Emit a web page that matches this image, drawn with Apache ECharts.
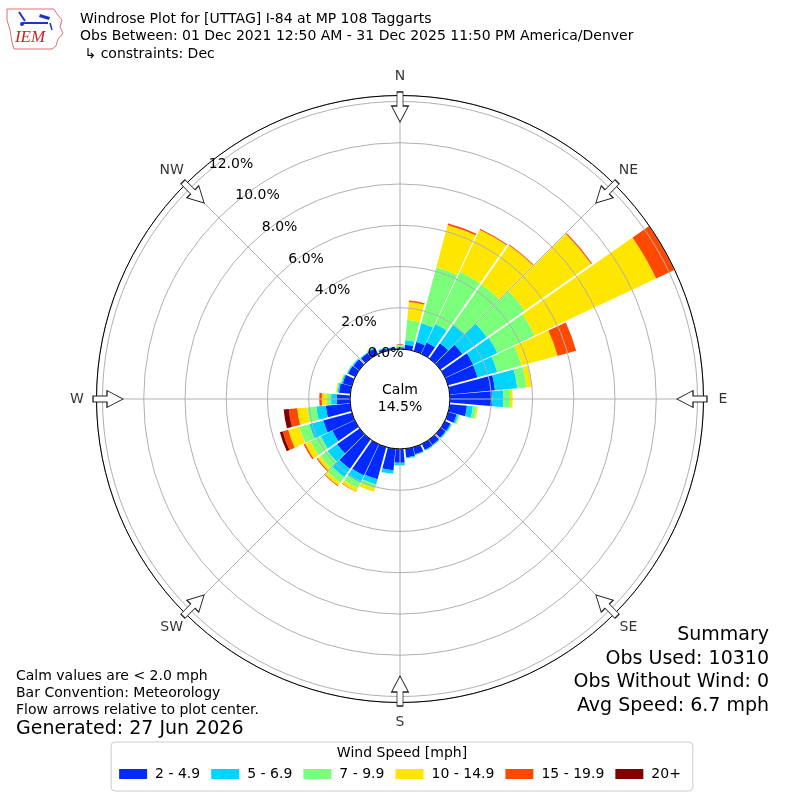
<!DOCTYPE html>
<html><head><meta charset="utf-8">
<script src="https://cdn.jsdelivr.net/npm/echarts@6/dist/echarts.min.js"></script>
<style>html,body{margin:0;padding:0;background:#fff}#c{width:800px;height:800px}</style>
</head><body><div id="c"></div>
<script>
// ---------- data ----------
const directions = [0,10,20,30,40,50,60,70,80,90,100,110,120,130,140,150,160,170,
                    180,190,200,210,220,230,240,250,260,270,280,290,300,310,320,330,340,350];
const speedBins = ['2 - 4.9','5 - 6.9','7 - 9.9','10 - 14.9','15 - 19.9','20+'];
// percent of observations per direction bin (stacked)
const bin2to5   = [0.05,0.22,0.45,0.60,0.90,1.30,1.50,1.48,2.20,2.05,0.84,0.42,0.30,0.28,0.30,0.32,0.35,0.42,
                   0.67,1.05,1.62,1.68,1.74,1.33,1.20,1.44,1.19,0.64,0.55,0.45,0.38,0.35,0.30,0.32,0.12,0.08];
const bin5to7   = [0.06,0.23,0.95,1.00,1.10,1.45,1.30,0.99,1.08,0.55,0.29,0.09,0.06,0.05,0.04,0.04,0.04,0.05,
                   0.12,0.17,0.26,0.39,0.49,0.57,0.62,0.70,0.46,0.28,0.07,0.06,0.05,0.05,0.04,0.05,0.04,0.03];
const bin7to10  = [0.05,0.98,2.80,2.80,2.40,2.25,2.00,1.23,0.46,0.32,0.17,0.06,0.03,0.02,0,0,0,0.02,
                   0.02,0.03,0.21,0.29,0.33,0.43,0.56,0.50,0.44,0.21,0.05,0.04,0.02,0.02,0,0.03,0.02,0.02];
const bin10to15 = [0.04,0.87,2.12,2.25,2.32,3.92,6.50,1.80,0.24,0.12,0.07,0.03,0,0,0,0,0,0,
                   0,0,0.16,0.18,0.17,0.17,0.28,0.56,0.49,0.24,0.03,0.02,0,0,0,0.02,0,0];
const bin15to20 = [0,0.07,0.08,0.05,0.04,0.06,0.97,0.93,0,0,0,0,0,0,0,0,0,0,
                   0,0,0,0.02,0.04,0.05,0.08,0.28,0.41,0.12,0,0,0,0,0,0,0,0];
const bin20plus = [0,0,0,0,0,0,0,0,0,0,0,0,0,0,0,0,0,0,
                   0,0,0,0,0,0,0,0.14,0.25,0,0,0,0,0,0,0,0,0];
const compassDirs  = [0,45,90,135,180,225,270,315];
const compassNames = ['N','NE','E','SE','S','SW','W','NW'];
const ringTicks = [0,2,4,6,8,10,12];
const calmPct = 14.5;
const maxPct = 12.29;
const summaryLines = ['Summary','Obs Used: 10310','Obs Without Wind: 0','Avg Speed: 6.7 mph'];
const noteLines = ['Calm values are < 2.0 mph','Bar Convention: Meteorology','Flow arrows relative to plot center.'];
const generatedLine = 'Generated: 27 Jun 2026';
const titleLines = ['Windrose Plot for [UTTAG] I-84 at MP 108 Taggarts',
                    'Obs Between: 01 Dec 2021 12:50 AM - 31 Dec 2025 11:50 PM America/Denver',
                    ' \u21b3 constraints: Dec'];

// ---------- layout / style ----------
const CX = 400, CY = 399, R0 = 50, R1 = 303.5;
const FONT = 'DejaVu Sans';
const colors = ['#002aff','#00d4ff','#7bff7b','#ffe600','#ff4800','#800000'];
const binData = [bin2to5, bin5to7, bin7to10, bin10to15, bin15to20, bin20plus];
const pxToVal = px => (px - R0) / (R1 - R0) * maxPct;
const ARROW_R = pxToVal(292);
const LABEL_R = pxToVal(323);
const ARROW_PATH = 'path://M5.5,0L11.5,0L11.5,14L17,14L8.5,30L0,14L5.5,14Z';

function txt(x, y, text, size, align, extra) {
  return Object.assign({type:'text', x:x, y:y, silent:true, z:10,
    style:{text:text, fontSize:size, fontFamily:FONT, fill:'#000', align:align||'left', verticalAlign:'middle'}}, extra||{});
}

const graphics = [];
titleLines.forEach((t,i)=>graphics.push(txt(80, 19 + i*17.5, t, 14)));
noteLines.forEach((t,i)=>graphics.push(txt(16, 676 + i*17, t, 14)));
graphics.push(txt(16, 729, generatedLine, 19));
summaryLines.forEach((t,i)=>graphics.push(txt(769, 635 + i*23.7, t, 19, 'right')));
graphics.push({type:'text', x:CX, y:CY, silent:true, z:10,
  style:{text:'Calm\n' + calmPct.toFixed(1) + '%', fontSize:14, fontFamily:FONT, fill:'#000', align:'center', verticalAlign:'middle', lineHeight:17}});
graphics.push(txt(402, 753, 'Wind Speed [mph]', 14, 'center'));
// IEM logo (simplified)
graphics.push({type:'polygon', silent:true, z:10,
  shape:{points:[[7,9],[54,9],[57,14],[62,20],[60,27],[63,33],[58,39],[56,46],[52,49],[14,49],[12,42],[10,30],[7,20]]},
  style:{fill:'#fff', stroke:'#e07070', lineWidth:1}});
graphics.push({type:'line', silent:true, z:11, shape:{x1:22,y1:23,x2:48,y2:23}, style:{stroke:'#1836c8', lineWidth:2}});
graphics.push({type:'line', silent:true, z:11, shape:{x1:19,y1:12,x2:25,y2:21}, style:{stroke:'#1836c8', lineWidth:2}});
graphics.push({type:'polygon', silent:true, z:11, shape:{points:[[40,14],[50,17],[49,20],[39,17]]}, style:{fill:'#1836c8'}});
graphics.push({type:'circle', silent:true, z:11, shape:{cx:22,cy:24,r:2}, style:{fill:'#1836c8'}});
graphics.push({type:'line', silent:true, z:11, shape:{x1:50,y1:23,x2:52,y2:30}, style:{stroke:'#1836c8', lineWidth:1.5}});
graphics.push({type:'text', x:30, y:38, silent:true, z:11,
  style:{text:'IEM', fontSize:17, fontFamily:'Liberation Serif', fontStyle:'italic', fill:'#d02020', align:'center', verticalAlign:'middle'}});

const option = {
  animation: false,
  backgroundColor: '#fff',
  textStyle: {fontFamily: FONT},
  polar: [
    {center:[CX,CY], radius:[R0,R1]},
    {center:[CX,CY], radius:[R0,R1]},
    {center:[CX,CY], radius:[R0,R1]}
  ],
  angleAxis: [
    {polarIndex:0, type:'category', data:directions.map(String), startAngle:95, clockwise:true, z:3,
     axisLine:{show:false}, axisTick:{show:false}, axisLabel:{show:false},
     splitLine:{show:true, interval:0, lineStyle:{color:'#ffffff', width:1.8}}},
    {polarIndex:1, type:'value', min:0, max:360, interval:45, startAngle:90, clockwise:true, z:5,
     axisLine:{show:true, lineStyle:{color:'#000', width:1}}, axisTick:{show:false}, axisLabel:{show:false},
     splitLine:{show:true, lineStyle:{color:'#b0b0b0', width:1}}},
    {polarIndex:2, type:'value', min:0, max:360, startAngle:130, clockwise:true, show:false}
  ],
  radiusAxis: [
    {polarIndex:0, type:'value', min:0, max:maxPct, show:false},
    {polarIndex:1, type:'value', min:0, max:maxPct, interval:2, z:4,
     axisLine:{show:false}, axisTick:{show:false}, axisLabel:{show:false},
     splitLine:{show:true, lineStyle:{color:'#b0b0b0', width:1}}},
    {polarIndex:2, type:'value', min:0, max:maxPct, interval:2, z:6,
     axisLine:{show:false}, axisTick:{show:false}, splitLine:{show:false},
     axisLabel:{show:true, margin:0, align:'left', verticalAlign:'bottom', fontSize:14, color:'#000', fontFamily:FONT,
       formatter: v => ringTicks.indexOf(Math.round(v*1000)/1000) >= 0 ? v.toFixed(1) + '%' : ''}}
  ],
  legend: {data:speedBins, left:'center', top:742, padding:[25,12,10,8], itemWidth:28, itemHeight:10, itemGap:11,
    icon:'rect', borderColor:'#cccccc', borderWidth:1, borderRadius:4, selectedMode:false,
    textStyle:{fontSize:14, color:'#000', fontFamily:FONT, padding:[0,0,0,3]}},
  graphic: graphics,
  series: speedBins.map((name,i)=>({
    type:'bar', name:name, coordinateSystem:'polar', polarIndex:0, stack:'wind',
    data: binData[i], itemStyle:{color:colors[i]}, barCategoryGap:'4%', z:2,
    emphasis:{disabled:true}, silent:true
  })).concat([
    {type:'scatter', name:'arrows', coordinateSystem:'polar', polarIndex:1, clip:false, silent:true, z:8,
     data: compassDirs.map(d=>[ARROW_R, d]), symbol:ARROW_PATH, symbolSize:[17,30],
     symbolRotate: v => -v[1], itemStyle:{color:'#fff', borderColor:'#222', borderWidth:1, opacity:1}},
    {type:'scatter', name:'dirLabels', coordinateSystem:'polar', polarIndex:1, clip:false, silent:true, z:8,
     data: compassDirs.map((d,i)=>({value:[LABEL_R, d], name:compassNames[i]})), symbolSize:1,
     itemStyle:{color:'rgba(0,0,0,0)'},
     label:{show:true, position:'inside', formatter:'{b}', color:'#000', fontSize:14, fontFamily:FONT}}
  ])
};
const chart = echarts.init(document.getElementById('c'), null, {renderer:'canvas'});
chart.setOption(option);
</script>
</body></html>
